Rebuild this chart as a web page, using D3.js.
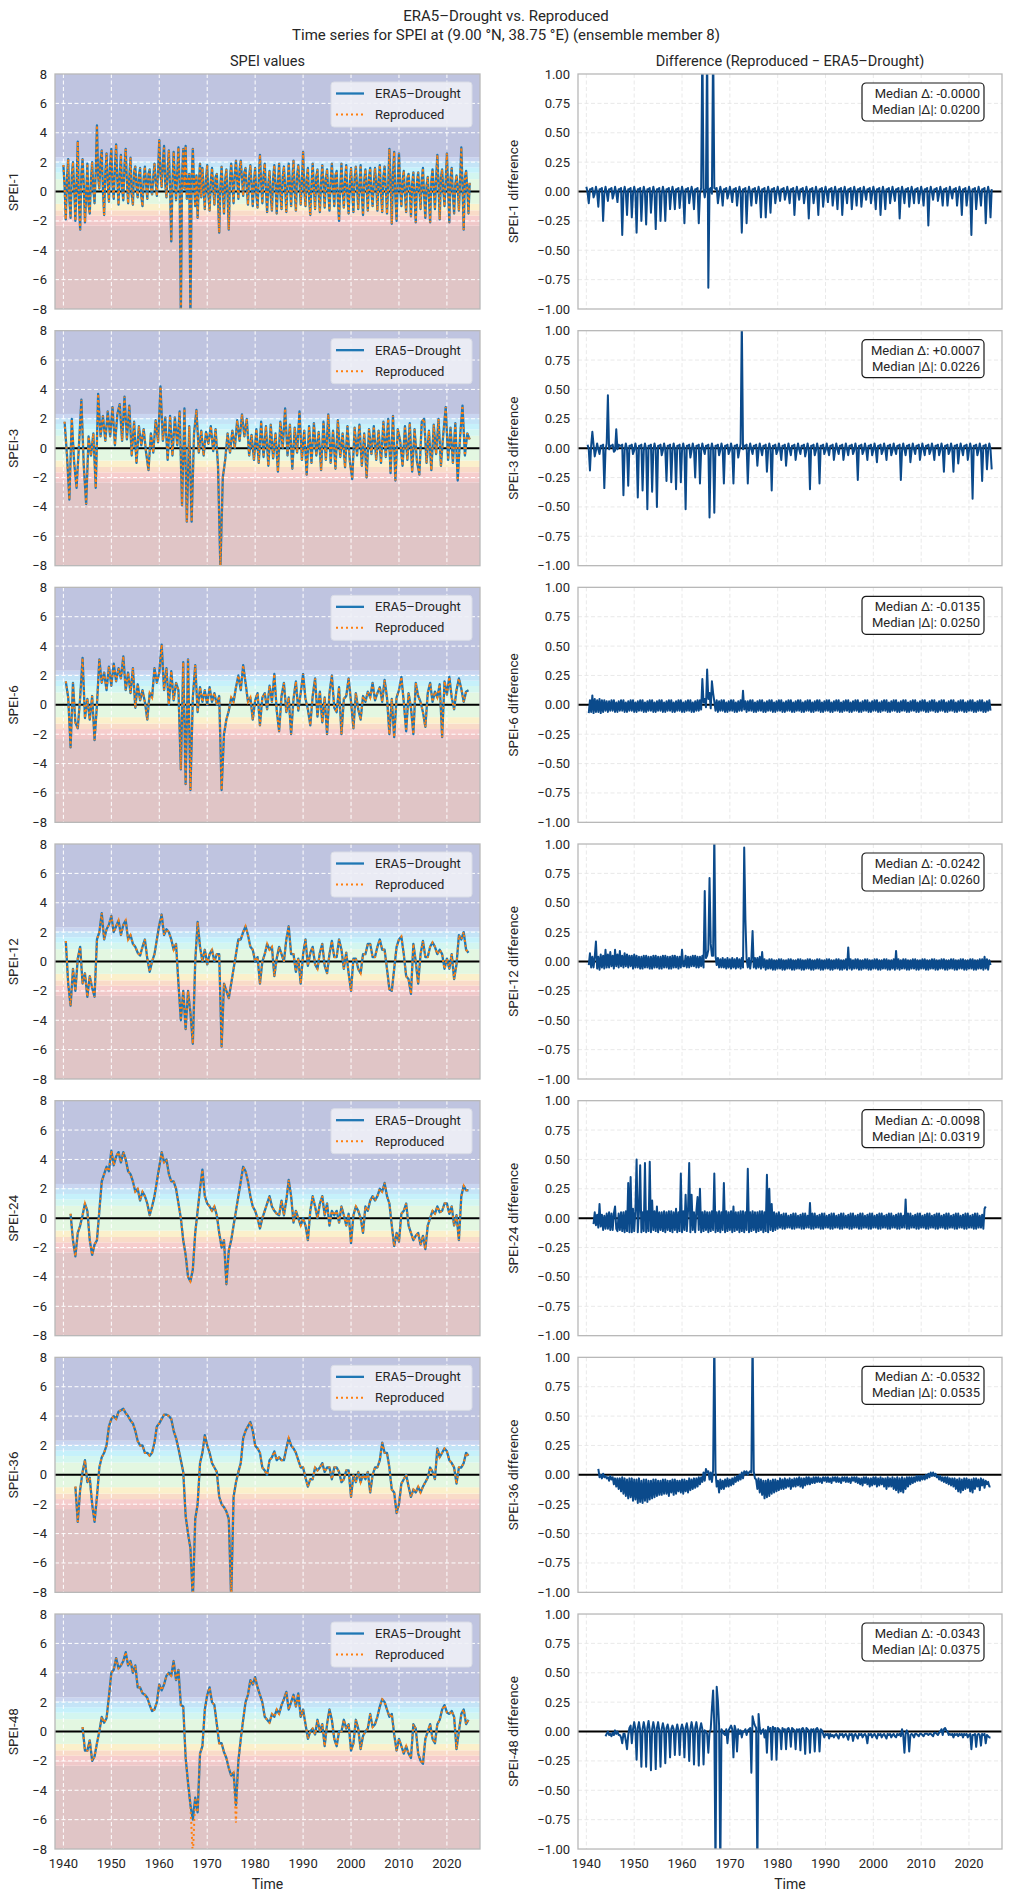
<!DOCTYPE html>
<html>
<head>
<meta charset="utf-8">
<script src="https://cdn.jsdelivr.net/npm/d3@7"></script>
<style>
  body { margin: 0; background: #fff; }
</style>
</head>
<body>
<div id="chart"></div>
<script>
// ---- data ----
const scaleNames = ['SPEI-1', 'SPEI-3', 'SPEI-6', 'SPEI-12', 'SPEI-24', 'SPEI-36', 'SPEI-48'];
const medianDelta = ['-0.0000', '+0.0007', '-0.0135', '-0.0242', '-0.0098', '-0.0532', '-0.0343'];
const medianAbs = ['0.0200', '0.0226', '0.0250', '0.0260', '0.0319', '0.0535', '0.0375'];
const yearTicks = [1940, 1950, 1960, 1970, 1980, 1990, 2000, 2010, 2020];
const speiTicks = [-8, -6, -4, -2, 0, 2, 4, 6, 8];
const diffTicks = [-1, -0.75, -0.5, -0.25, 0, 0.25, 0.5, 0.75, 1];
const bandEdges = [-8, -2.33, -2.05, -1.65, -1.28, -0.84, 0.84, 1.28, 1.65, 2.05, 2.33, 8];
const bandColors = ['#e0c5c6', '#f0c8c9', '#f6cdcd', '#f9dbc8', '#fbf0cb', '#e3f7e1',
                    '#d3f6f0', '#c6f1fb', '#c4e4f7', '#c9d5f0', '#bfc4e0'];
// first sample time and sample spacing (years) of each series
const speiStart = [1940.0, 1940.25, 1940.5, 1940.5, 1941.5, 1942.5, 1944.0];
const speiStep = [0.25, 0.5, 0.5, 0.5, 0.5, 0.5, 0.5];
const diffStart = [1940.0, 1940.25, 1940.5, 1940.5, 1941.5, 1942.5, 1944.0];
const diffStep = 0.25;

// SPEI-1, quarterly, one row of four per year 1940..2024
const spei1 = [
  1.8,0.4,-1.9,0.9, 2.2,-0.6,-1.8,1.1, 2.0,0.3,-2.0,0.6, 3.4,-0.8,-2.6,1.2, 2.2,0.5,-2.1,-0.3,
  1.9,-0.9,-1.5,0.8, 2.0,0.2,-0.8,1.4, 4.5,1.0,0.2,2.1, 2.8,0.1,-1.6,1.3, 2.6,0.6,-0.7,1.9,
  2.9,0.4,-0.5,1.6, 3.2,0.8,-0.9,1.2, 2.5,0.2,-0.6,1.8, 2.9,0.7,-0.8,1.0, 2.3,-0.2,-0.9,1.4,
  1.7,0.3,-0.4,1.1, 1.6,-0.3,-1.0,0.9, 1.7,0.5,-0.5,1.2, 1.5,0.2,-0.2,1.0, 1.9,0.6,-0.3,1.4,
  3.5,1.2,0.3,2.0, 3.1,0.5,-0.4,1.5, 2.8,0.3,-3.4,0.6, 2.7,0.9,-0.6,1.3, 3.0,0.4,-8.5,1.0,
  2.9,0.2,3.1,-0.5, 0.4,1.2,-8.5,0.8, 2.9,0.6,-1.0,1.1, -1.8,0.5,1.9,-0.4, 1.6,0.2,-1.2,0.9,
  1.8,-0.2,-1.3,0.7, 1.6,0.3,-0.9,1.0, 1.2,-0.5,-2.8,0.4, 1.7,0.1,-1.5,0.8, 1.5,-0.3,-2.6,0.9,
  1.9,0.6,-0.8,1.2, 2.1,0.8,-0.5,1.5, 2.1,0.9,-0.3,1.3, 1.6,0.2,-0.9,1.0, 1.8,0.4,-1.0,0.7,
  1.6,-0.2,-1.1,0.8, 2.5,0.6,-0.8,1.1, 1.9,0.1,-1.4,0.5, 1.4,-0.3,-1.3,0.9, 1.8,0.4,-1.5,0.6,
  1.9,-0.1,-1.2,1.0, 1.7,0.3,-1.4,0.4, 1.9,0.5,-1.0,0.8, 2.1,0.0,-1.3,1.1, 1.8,0.6,-0.9,0.7,
  2.7,0.2,-1.0,0.9, 1.6,-0.4,-1.6,0.5, 1.9,0.3,-1.2,1.0, 1.5,-0.2,-1.4,0.6, 1.8,0.5,-1.1,0.9,
  1.5,0.0,-1.3,0.7, 1.9,0.4,-1.0,1.1, 1.4,-0.5,-2.0,0.3, 1.9,0.2,-1.1,0.8, 1.8,-0.3,-1.5,0.6,
  1.6,0.1,-1.4,0.9, 1.7,0.4,-1.2,0.5, 1.8,-0.2,-1.6,0.7, 1.5,0.3,-1.3,1.0, 1.6,0.0,-1.0,0.6,
  1.6,0.5,-1.3,0.8, 1.8,-0.1,-1.4,1.0, 1.7,0.2,-1.5,0.4, 2.9,0.6,-2.2,1.2, 2.7,-0.4,-2.0,0.8,
  2.6,0.3,-1.0,0.7, 1.4,-0.2,-1.4,0.9, 1.2,0.1,-1.7,0.5, 1.3,-0.4,-2.1,0.6, 1.3,0.2,-1.2,0.8,
  1.6,-0.3,-1.8,0.4, 1.0,-0.5,-2.1,0.7, 1.5,0.3,-1.2,0.9, 2.5,0.4,-1.9,1.0, 1.5,0.1,-1.0,0.8,
  2.6,0.2,-2.1,0.9, 1.6,-0.2,-1.5,0.5, 1.1,0.3,-1.3,0.8, 3.0,0.4,-2.6,0.9, 1.4,0.2,-1.5,0.6
];
const spei3 = [
  1.8,-0.5, -3.5,2.0, -1.0,-2.7, 0.2,3.3, -1.2,-3.8, 0.8,-0.5, 1.0,-2.7, 3.7,0.8, 2.2,0.5, 2.5,0.8,
  2.8,0.2, 2.3,3.0, 0.5,3.5, 0.6,2.9, -0.5,1.8, -1.0,1.5, 0.2,1.3, -0.3,-1.5, 1.0,-0.3, 1.9,0.4,
  4.2,0.5, 2.1,-0.8, 2.2,-0.5, 2.1,0.2, 2.5,-3.9, 2.7,-5.0, 1.5,-5.0, 1.0,2.6, -0.3,1.2, -0.5,1.1,
  0.3,1.5, -0.2,1.3, -1.2,-8.2, -2.0,-0.8, 1.0,-0.3, 1.2,0.0, 1.9,0.5, 2.3,0.8, 2.0,-0.5, 0.9,-0.8,
  1.3,-1.0, 1.8,-0.6, 1.5,-1.2, 1.6,-0.7, 1.0,-1.6, 1.8,0.0, 2.7,-0.5, 1.6,-1.4, 1.4,-0.3, 2.5,-0.8,
  1.2,-1.8, 1.5,-1.0, 1.7,-0.5, 1.1,-1.5, 1.8,-0.8, 2.3,-1.0, 1.2,-1.4, 1.9,-0.6, 1.0,-1.3, 1.5,-0.9,
  -2.1,1.4, -0.5,1.6, -1.2,1.0, -2.0,1.3, -0.4,1.5, -0.8,1.2, -1.0,1.8, -0.6,2.0, -1.7,2.2, -2.2,1.3,
  0.5,-1.2, 1.5,-0.8, 1.7,-1.6, 1.3,-0.9, -1.8,1.8, 2.0,-1.0, 1.2,-1.5, 1.6,-0.4, 2.0,-1.2, 1.0,2.8,
  -0.8,1.4, -1.0,1.7, -2.2,0.8, 2.9,-0.5, 1.0,0.6
];
const spei6 = [
  1.6,
  0.5,-2.9, 1.5,-1.2, -1.6,0.5, 3.2,-0.9, 0.4,-1.0, 0.6,-2.4, 0.0,3.1, 1.5,2.2, 1.0,2.6,
  1.3,2.8, 1.6,2.5, 1.8,3.3, 1.0,2.2, 0.8,2.5, -0.2,1.4, 0.3,1.0, 0.2,-1.0, 0.8,0.5, 2.5,1.5,
  2.2,4.1, 1.0,2.5, 0.0,2.3, 0.3,1.5, 1.0,-4.4, 2.9,-5.4, 3.1,-5.8, 0.5,2.7, -0.5,1.2, 0.2,1.0,
  0.0,1.2, 0.2,0.8, 0.0,0.6, -5.8,-2.0, -1.0,-0.4, 0.5,0.2, 1.2,2.0, 1.0,2.7, 1.5,0.2, 0.5,-1.0,
  0.3,0.8, -1.4,0.5, 0.8,-0.3, 1.3,0.2, 2.1,-0.4, -1.8,0.6, 1.5,-0.5, 0.5,-2.0, 0.4,1.6, -0.4,0.8,
  2.1,0.4, -0.3,-1.4, 0.6,1.8, -0.8,0.9, -1.2,0.5, -2.0,0.8, 2.0,-0.2, -0.5,1.2, -2.0,0.4, 0.6,1.8,
  0.2,-1.6, 0.8,-0.3, -1.0,0.6, 0.2,0.9, 0.5,1.5, 0.3,0.8, 1.2,0.2, 1.7,0.5, -2.0,0.4, -2.2,0.5,
  1.0,1.9, 0.2,-1.8, 0.8,-0.2, -2.0,1.5, 0.6,0.2, -0.5,-1.5, 0.8,1.5, 0.2,0.9, 0.5,1.4, -2.2,1.6,
  0.7,1.9, 0.5,-0.3, 1.0,1.8, 1.1,0.2, 0.9,1.0
];
const spei12 = [
  1.4,
  -1.5,-3.0, -0.5,-2.0, 0.2,1.0, -1.5,-0.8, -2.4,-1.0, -1.8,-2.4, 1.5,2.0, 3.3,1.5, 2.2,2.5,
  3.1,2.0, 2.4,2.8, 1.8,2.5, 2.8,1.5, 1.8,1.2, 1.0,0.6, 0.4,1.0, 1.5,0.2, -0.7,0.0, 0.5,1.5,
  2.5,3.2, 1.8,2.2, 2.0,1.5, 0.8,1.2, -1.5,-4.0, -2.0,-4.6, -2.0,-3.5, -5.6,0.0, 2.7,1.0, 0.0,0.8,
  -0.2,0.5, 0.8,0.0, 0.5,0.5, -5.8,-1.5, -2.0,-2.5, -1.5,-0.5, 0.5,1.5, 1.5,2.0, 2.4,1.8, 1.0,0.8,
  0.0,0.3, -1.5,0.0, 0.5,1.2, 0.8,1.0, -1.0,0.2, 1.0,0.5, 0.0,1.5, 2.4,0.5, 0.5,-0.7, 0.2,-1.5,
  0.5,1.5, -0.3,0.6, 1.0,-0.2, -0.5,0.6, 1.2,-0.3, -0.8,0.5, 1.4,0.3, 0.3,1.5, 0.8,-0.5, 0.6,-0.8,
  -2.0,0.2, 0.2,-0.5, -0.8,0.5, 0.5,1.2, 1.2,0.3, 0.3,1.0, 1.5,0.8, 0.8,-0.5, -1.9,-2.0, -0.5,1.0,
  1.5,1.7, 0.5,-1.0, -1.2,-2.2, 1.2,0.0, -1.5,0.5, 1.4,0.3, 0.3,1.0, 1.3,1.0, 0.5,0.8, 0.5,-0.5,
  0.2,-0.5, 0.5,-1.2, -0.2,1.8, 1.5,2.0, 0.8,0.6
];
const spei24 = [
  0.3,
  -1.5,-2.6, -1.0,-0.5, 0.2,1.0, 0.5,-1.5, -2.5,-1.8, -1.5,0.5, 2.5,3.0, 3.5,3.2,
  4.6,3.6, 4.2,4.5, 3.8,4.5, 4.0,3.2, 3.0,2.5, 1.8,2.0, 1.2,1.8, 1.5,1.0, 0.2,0.8, 1.5,2.5,
  3.5,4.5, 3.8,4.0, 3.0,2.5, 2.5,2.0, 1.0,0.0, -1.5,-2.5, -4.0,-4.3, -3.5,-1.0, 0.5,2.0, 3.3,1.5,
  1.0,0.8, 0.5,0.8, 0.2,-1.0, -2.0,-1.5, -4.5,-2.2, -1.5,-0.5, 0.5,1.5, 2.5,3.5, 3.2,2.5, 1.5,0.8,
  0.5,0.0, -0.7,0.0, 0.5,1.0, 1.5,0.8, 0.5,0.3, 0.2,1.2, 0.2,1.2, 2.6,1.5, -0.3,0.5, 0.0,-0.5,
  0.0,-0.5, -1.5,0.5, 1.5,0.8, 0.0,1.0, 1.5,0.2, 1.0,-0.5, 0.5,0.2, 0.5,-0.3, 0.8,0.2, -0.5,0.3,
  -1.7,0.2, 0.8,0.5, 0.0,-1.0, 0.8,0.5, 1.2,1.5, 1.2,1.5, 2.0,1.8, 2.4,1.5, 1.0,-0.5, -1.9,-1.0,
  -1.6,0.3, 0.5,1.0, -0.5,-1.0, -1.5,-1.2, -1.0,-1.8, -1.2,-2.1, -0.5,0.0, 0.5,0.3, 0.8,0.4, 0.5,1.0,
  1.0,0.3, 0.8,-0.5, 0.2,-1.5, 1.5,2.2, 1.9,1.9
];
const spei36 = [
  -0.8,
  -3.2,-1.0, 0.2,1.0, -0.5,-0.2, -2.0,-3.2, -1.5,0.5, 1.2,1.5, 2.0,3.3,
  3.8,4.0, 3.8,4.3, 4.4,4.5, 4.2,4.0, 3.7,3.5, 3.0,2.3, 2.0,2.0, 1.5,1.5, 1.3,1.5, 2.2,3.3,
  3.5,3.8, 4.1,4.1, 4.0,3.8, 3.0,2.5, 1.8,1.0, 0.2,-2.8, -4.0,-5.0, -8.5,-3.0, -2.0,0.8, 1.5,2.7,
  2.0,1.5, 0.8,0.5, 0.2,-1.5, -2.0,-2.2, -2.5,-3.0, -8.5,-1.5, -0.5,0.2, 0.8,2.5, 3.0,3.3, 3.6,3.0,
  2.0,1.8, 1.5,0.5, 0.3,0.0, 1.0,1.2, 1.6,1.0, 1.2,1.0, 1.0,1.8, 2.5,2.0, 1.8,1.5, 1.0,0.5,
  0.5,-0.2, -0.8,-0.3, -0.3,0.5, 0.3,0.5, 0.8,0.2, 0.5,0.5, -0.3,0.5, 0.5,0.2, -0.5,-0.3, 0.3,0.3,
  -1.5,0.0, -0.5,0.2, -0.5,0.0, -0.3,0.2, -1.2,0.0, 0.5,0.5, 1.0,2.2, 1.5,1.5, 0.5,-1.0, -1.2,-2.6,
  -2.0,-0.6, -0.3,0.0, -0.8,-1.5, -1.0,-1.2, -0.8,-1.2, -0.8,-0.5, -0.2,0.5, 0.2,-0.3, 1.8,1.2, 1.5,1.8,
  1.6,1.0, 0.8,0.5, -0.6,0.5, 0.5,0.8, 1.5,1.3
];
const spei48 = [
  0.3,-1.3, -1.3,-0.6, -2.0,-1.7, -0.8,0.0, 1.0,0.6, 0.9,2.4,
  4.0,4.2, 5.0,4.3, 4.5,4.8, 5.4,4.5, 4.8,4.0, 4.5,3.0, 3.0,2.6, 2.5,2.3, 1.8,1.4, 1.5,2.0,
  3.2,2.8, 3.2,3.8, 4.0,3.8, 4.8,3.5, 4.2,1.8, 1.7,-1.8, -3.5,-5.0, -6.0,-4.5, -5.5,-1.5, -1.0,1.5,
  2.5,3.0, 2.0,1.8, 0.5,-0.8, -0.8,-1.4, -1.8,-2.5, -3.0,-2.8, -5.0,-2.0, -0.5,0.8, 2.0,2.5, 3.5,3.2,
  3.7,3.0, 2.5,2.0, 1.0,0.8, 0.6,1.2, 1.0,1.5, 1.2,1.8, 2.2,2.7, 1.5,2.0, 2.5,1.7, 2.6,1.0,
  1.5,0.5, -0.5,0.0, 0.2,-0.2, 0.8,0.0, 0.5,-1.0, 0.5,1.5, 0.8,-0.5, -1.0,0.0, 0.0,0.8, 0.2,0.5,
  -1.3,-0.8, 0.8,0.2, -1.2,-0.3, 0.0,0.2, 1.2,0.3, 0.5,1.0, 1.7,2.2, 2.0,1.5, 1.0,1.2, -0.2,-1.3,
  -0.5,-1.0, -1.5,-1.0, -1.5,-1.8, 0.5,0.2, -1.5,-2.0, -2.2,-0.5, 0.0,0.5, -0.5,-0.8, 0.5,0.8, 1.5,1.8,
  1.3,1.2, 1.4,1.0, -1.2,0.0, 1.2,1.5, 0.5,0.8
];
// where the reproduced line visibly departs from ERA5-Drought: [time, value]
const reproOverrides = [[], [], [], [], [], [], [[1967.0, -8.5], [1976.0, -6.2]]];

// differences, quarterly, one row of four per year
const diff1 = [
  .04,-.01,-.10,.02, .02,.03,-.05,-.02, .04,-.01,-.13,.02, .02,.03,-.25,-.02, .04,-.01,-.08,.02,
  .02,.03,-.06,-.02, .04,-.01,-.09,.02, .02,.03,-.37,-.02, .04,-.01,-.20,.02, .02,.03,-.22,-.02,
  .04,-.01,-.35,.02, .02,.03,-.25,-.02, .04,-.01,-.28,.02, .02,.03,-.18,-.02, .04,-.01,-.32,.02,
  .02,.03,-.25,-.02, .04,-.01,-.25,.02, .02,.03,-.15,-.02, .04,-.01,-.15,.02, .02,.03,-.14,-.02,
  .04,-.01,-.27,.02, .02,.03,-.10,-.02, .04,-.01,-.15,.02, .02,.03,-.27,-.02, .03,1.3,.02,-.05,
  .03,1.3,-.82,.02, .03,-.02,1.3,.03, .02,.03,-.10,-.02, .04,-.01,-.12,.02, .02,.03,-.06,-.02,
  .04,-.01,-.09,.02, .02,.03,-.12,-.02, .04,-.01,-.35,.02, .02,.03,-.27,-.02, .04,-.01,-.12,.02,
  .02,.03,-.10,-.02, .04,-.01,-.22,.02, .02,.03,-.22,-.02, .04,-.01,-.18,.02, .02,.03,-.10,-.02,
  .04,-.01,-.08,.02, .02,.03,-.07,-.02, .04,-.01,-.10,.02, .02,.03,-.20,-.02, .04,-.01,-.07,.02,
  .02,.03,-.10,-.02, .04,-.01,-.23,.02, .02,.03,-.10,-.02, .04,-.01,-.20,.02, .02,.03,-.13,-.02,
  .04,-.01,-.09,.02, .02,.03,-.12,-.02, .04,-.01,-.15,.02, .02,.03,-.20,-.02, .04,-.01,-.10,.02,
  .02,.03,-.15,-.02, .04,-.01,-.12,.02, .02,.03,-.13,-.02, .04,-.01,-.07,.02, .02,.03,-.10,-.02,
  .04,-.01,-.15,.02, .02,.03,-.20,-.02, .04,-.01,-.15,.02, .02,.03,-.10,-.02, .04,-.01,-.08,.02,
  .02,.03,-.23,-.02, .04,-.01,-.10,.02, .02,.03,-.13,-.02, .04,-.01,-.10,.02, .02,.03,-.10,-.02,
  .04,-.01,-.12,.02, .02,.03,-.29,-.02, .04,-.01,-.07,.02, .02,.03,-.08,-.02, .04,-.01,-.12,.02,
  .02,.03,-.12,-.02, .04,-.01,-.06,.02, .02,.03,-.12,-.02, .04,-.01,-.20,.02, .02,.03,-.12,-.02,
  .04,-.01,-.37,.02, .02,.03,-.15,-.02, .04,-.01,-.12,.02, .02,.03,-.27,-.02, .04,-.01,-.22,.02
];
const diff3 = [
  .03,-.01,-.19,.02, .14,.03,-.07,-.02, .04,-.01,-.05,.02, .02,.03,-.34,-.02, .04,.45,-.01,.02,
  .02,.03,-.03,-.02, .16,-.01,.03,.02, .02,.03,-.40,-.02, .04,-.01,-.32,.02, .02,.03,-.05,-.02,
  .04,-.01,-.42,.02, .02,.03,-.36,-.02, .04,-.01,-.52,.02, .02,.03,-.37,-.02, .04,-.01,-.50,.02,
  .02,.03,-.06,-.02, .04,-.01,-.28,.02, .02,.03,-.29,-.02, .04,-.01,-.35,.02, .02,.03,-.29,-.02,
  .04,-.01,-.52,.02, .02,.03,-.08,-.02, .04,-.01,-.25,.02, .02,.03,-.30,-.02, .04,-.01,-.05,.02,
  .02,.03,-.59,-.02, .04,-.01,-.55,.02, .02,.03,-.06,-.02, .04,-.01,-.30,.02, .02,.03,-.05,-.02,
  .04,-.01,-.30,.02, .02,.03,-.08,-.02, .04,1.1,-.01,.02, .02,.03,-.30,-.02, .04,-.01,-.05,.02,
  .02,.03,-.15,-.02, .04,-.01,-.06,.02, .02,.03,-.20,-.02, .04,-.01,-.36,.02, .02,.03,-.05,-.02,
  .04,-.01,-.10,.02, .02,.03,-.15,-.02, .04,-.01,-.06,.02, .02,.03,-.10,-.02, .04,-.01,-.05,.02,
  .02,.03,-.07,-.02, .04,-.01,-.35,.02, .02,.03,-.06,-.02, .04,-.01,-.30,.02, .02,.03,-.05,-.02,
  .04,-.01,-.06,.02, .02,.03,-.10,-.02, .04,-.01,-.05,.02, .02,.03,-.10,-.02, .04,-.01,-.06,.02,
  .02,.03,-.05,-.02, .04,-.01,-.27,.02, .02,.03,-.05,-.02, .04,-.01,-.10,.02, .02,.03,-.06,-.02,
  .04,-.01,-.12,.02, .02,.03,-.05,-.02, .04,-.01,-.10,.02, .02,.03,-.06,-.02, .04,-.01,-.05,.02,
  .02,.03,-.27,-.02, .04,-.01,-.06,.02, .02,.03,-.12,-.02, .04,-.01,-.05,.02, .02,.03,-.10,-.02,
  .04,-.01,-.06,.02, .02,.03,-.05,-.02, .04,-.01,-.10,.02, .02,.03,-.06,-.02, .04,-.01,-.20,.02,
  .02,.03,-.05,-.02, .04,-.01,-.20,.02, .02,.03,-.13,-.02, .04,-.01,-.06,.02, .02,.03,-.10,-.02,
  .04,-.01,-.43,.02, .02,.03,-.06,-.02, .04,-.01,-.28,.02, .02,.03,-.18,-.02, .04,-.01,-.18
];
const diff6 = [
  -.07,.04,-.06,.08, -.07,.05,-.06,.04, -.06,.05,-.07,.04, -.06,.04,-.05,.03, -.06,.03,-.05,.04,
  -.05,.04,-.06,.02, -.06,.03,-.05,.04, -.05,.04,-.06,.02, -.06,.03,-.05,.04, -.05,.04,-.06,.02,
  -.06,.03,-.05,.04, -.05,.04,-.06,.02, -.06,.03,-.05,.04, -.05,.04,-.06,.02, -.06,.03,-.05,.04,
  -.05,.04,-.06,.02, -.06,.03,-.05,.04, -.05,.04,-.06,.02, -.06,.03,-.05,.04, -.05,.04,-.06,.02,
  -.06,.03,-.05,.04, -.05,.04,-.06,.02, -.06,.03,-.05,.04, -.05,.04,-.04,.22, .02,.05,-.02,.30,
  .05,.10,-.03,.20, .10,.03,-.05,.04, -.06,.03,-.05,.04, -.05,.04,-.06,.02, -.06,.03,-.05,.04,
  -.05,.04,-.06,.02, -.06,.03,-.05,.04, -.05,.12,-.04,.03, -.06,.03,-.05,.04, -.05,.04,-.06,.02,
  -.06,.03,-.05,.04, -.05,.04,-.06,.02, -.06,.03,-.05,.04, -.05,.04,-.06,.02, -.06,.03,-.05,.04,
  -.05,.04,-.06,.02, -.06,.03,-.05,.04, -.05,.04,-.06,.02, -.06,.03,-.05,.04, -.05,.04,-.06,.02,
  -.06,.03,-.05,.04, -.05,.04,-.06,.02, -.06,.03,-.05,.04, -.05,.04,-.06,.02, -.06,.03,-.05,.04,
  -.05,.04,-.06,.02, -.06,.03,-.05,.04, -.05,.04,-.06,.02, -.06,.03,-.05,.04, -.05,.04,-.06,.02,
  -.06,.03,-.05,.04, -.05,.04,-.06,.02, -.06,.03,-.05,.04, -.05,.04,-.06,.02, -.06,.03,-.05,.04,
  -.05,.04,-.06,.02, -.06,.03,-.05,.04, -.05,.04,-.06,.02, -.06,.03,-.05,.04, -.05,.04,-.06,.02,
  -.06,.03,-.05,.04, -.05,.04,-.06,.02, -.06,.03,-.05,.04, -.05,.04,-.06,.02, -.06,.03,-.05,.04,
  -.05,.04,-.06,.02, -.06,.03,-.05,.04, -.05,.04,-.06,.02, -.06,.03,-.05,.04, -.05,.04,-.06,.02,
  -.06,.03,-.05,.04, -.05,.04,-.06,.02, -.06,.03,-.05,.04, -.05,.04,-.06,.02, -.06,.03,-.05,.04,
  -.05,.04,-.06,.02, -.06,.03,-.05,.04, -.05,.04,-.06,.02, -.06,.03,-.05,.04,
  -.05
];
const diff12 = [
  -.03,.07,-.05,.04, -.05,.04,.17,-.06, .04,-.07,.06,-.05, .05,-.06,.10,-.05, .06,-.05,.08,-.04,
  .05,-.06,.10,-.04, .06,-.05,.09,-.04, .05,-.05,.07,-.04, .06,-.05,.05,-.04, .05,-.06,.06,-.05,
  .05,-.05,.04,-.06, .04,-.06,.05,-.05, .05,-.05,.04,-.06, .04,-.06,.05,-.05, .05,-.05,.04,-.06,
  .04,-.06,.05,-.05, .05,-.05,.04,-.06, .04,-.06,.05,-.05, .05,-.05,.04,-.06, .04,-.05,.10,-.04,
  -.04,.05,-.05,.04, -.05,.04,-.04,.05, -.04,.05,-.05,.04, -.05,.04,-.04,.05, -.05,.60,.03,.05,
  .10,.71,.15,.05, .05,1.1,.05,-.03, .03,-.05,.02,-.05, .03,-.05,.02,-.06, .03,-.05,.02,-.06,
  .03,-.05,.02,-.06, .03,-.05,.02,-.06, .03,-.05,.97,.36, .02,-.05,.03,-.06, .02,.26,-.05,.03,
  -.06,.03,-.05,.04, -.06,.08,-.05,.02, -.07,.01,-.06,.02, -.06,.02,-.07,.01, -.07,.01,-.06,.02,
  -.06,.02,-.07,.01, -.07,.01,-.06,.02, -.06,.02,-.07,.01, -.07,.01,-.06,.02, -.06,.02,-.07,.01,
  -.07,.01,-.06,.02, -.06,.02,-.07,.01, -.07,.01,-.06,.02, -.06,.02,-.07,.01, -.07,.01,-.06,.02,
  -.06,.02,-.07,.01, -.07,.01,-.06,.02, -.06,.02,-.07,.01, -.07,.01,-.06,.02, -.07,.12,-.06,.02,
  -.07,.01,-.06,.02, -.06,.02,-.07,.01, -.07,.01,-.06,.02, -.06,.02,-.07,.01, -.07,.01,-.06,.02,
  -.06,.02,-.07,.01, -.07,.01,-.06,.02, -.06,.02,-.07,.01, -.07,.01,-.06,.02, -.07,.09,-.06,.02,
  -.07,.01,-.06,.02, -.06,.02,-.07,.01, -.07,.01,-.06,.02, -.06,.02,-.07,.01, -.07,.01,-.06,.02,
  -.06,.02,-.07,.01, -.07,.01,-.06,.02, -.06,.02,-.07,.01, -.07,.01,-.06,.02, -.06,.02,-.07,.01,
  -.07,.01,-.06,.02, -.06,.02,-.07,.01, -.07,.01,-.06,.02, -.06,.02,-.07,.01, -.07,.01,-.06,.02,
  -.06,.02,-.07,.01, -.07,.01,-.06,.02, -.06,.02,-.07,.04, -.06,.02,-.07,.01,
  -.03
];
const diff24 = [
  -.05,.05,-.06,.03, -.08,.12,-.07,.03, -.10,.02,-.09,.04, -.09,.05,-.10,.04, -.10,.04,.10,-.09,
  -.11,.04,-.10,.05, -.11,.05,-.12,.06, -.11,.30,-.12,.35, -.12,.08,-.11,.06, .50,-.12,.06,.45,
  -.12,.05,-.11,.47, -.12,.06,-.11,.48, -.12,.15,-.10,.06, -.11,.10,-.12,.05, -.10,.05,-.11,.06,
  -.12,.05,-.10,.06, -.11,.06,-.12,.05, -.10,.08,-.12,.05, -.11,.38,-.12,.06, -.10,.20,-.11,.06,
  .47,-.12,.20,-.10, .05,-.12,.06,.18, -.10,.25,-.12,.05, -.11,.06,-.10,.05, -.12,.05,-.11,.06,
  -.10,.38,-.12,.05, -.11,.06,-.12,.05, -.10,.30,-.12,.06, -.11,.05,-.10,.06, -.12,.10,-.11,.05,
  -.10,.05,-.12,.06, -.11,.06,-.12,.05, -.10,.42,-.12,.05, -.11,.06,-.10,.05, -.12,.05,-.11,.06,
  -.10,.06,-.12,.05, -.11,.37,-.12,.25, -.10,.12,-.11,.05, -.10,.04,-.09,.05, -.08,.03,-.09,.04,
  -.09,.04,-.08,.02, -.08,.03,-.09,.04, -.09,.04,-.08,.02, -.08,.03,-.09,.04, -.09,.04,-.08,.02,
  -.08,.13,-.09,.04, -.09,.04,-.08,.02, -.08,.03,-.09,.04, -.09,.04,-.08,.02, -.08,.03,-.09,.04,
  -.09,.04,-.08,.02, -.08,.03,-.09,.04, -.09,.04,-.08,.02, -.08,.03,-.09,.04, -.09,.04,-.08,.02,
  -.08,.03,-.09,.04, -.09,.04,-.08,.02, -.08,.03,-.09,.04, -.09,.04,-.08,.02, -.08,.03,-.09,.04,
  -.09,.04,-.08,.02, -.08,.03,-.09,.04, -.09,.04,-.08,.02, -.08,.03,-.09,.04, -.09,.04,-.08,.02,
  -.08,.16,-.09,.04, -.09,.04,-.08,.02, -.08,.03,-.09,.04, -.09,.04,-.08,.02, -.08,.03,-.09,.04,
  -.09,.04,-.08,.02, -.08,.03,-.09,.04, -.09,.04,-.08,.02, -.08,.03,-.09,.04, -.09,.04,-.08,.02,
  -.08,.03,-.09,.04, -.09,.04,-.08,.02, -.08,.03,-.09,.04, -.09,.04,-.08,.02, -.08,.03,-.09,.04,
  -.09,.04,-.08,.02, -.08,.03,-.09,.08,
  .10
];
const diff36 = [
  .05,-.02,.00,-.03, .01,-.02,-.01,-.03, -.02,-.05,-.01,-.04, -.02,-.08,-.03,-.10, -.03,-.12,-.03,-.14,
  -.02,-.16,-.03,-.18, -.04,-.20,-.03,-.19, -.03,-.22,-.04,-.21, -.04,-.24,-.03,-.23, -.05,-.24,-.04,-.22,
  -.04,-.23,-.05,-.21, -.05,-.20,-.04,-.19, -.04,-.18,-.05,-.17, -.05,-.17,-.04,-.16, -.04,-.16,-.05,-.18,
  -.05,-.15,-.04,-.17, -.04,-.16,-.05,-.14, -.05,-.15,-.04,-.16, -.04,-.14,-.05,-.15, -.03,-.13,-.04,-.12,
  -.03,-.11,-.03,-.10, -.02,-.08,-.02,-.06, .02,-.05,.05,.02, .03,-.04,.02,-.06, .04,1.2,.03,-.10,
  -.05,-.15,-.04,-.12, -.05,-.12,-.04,-.10, -.03,-.10,-.04,-.09, -.03,-.08,-.02,-.06, -.01,-.05,.00,-.04,
  .02,-.03,.03,.01, .03,.00,.02,.03, .02,1.2,.03,-.03, -.04,-.12,-.03,-.15, -.04,-.17,-.05,-.20,
  -.05,-.19,-.04,-.18, -.05,-.16,-.04,-.15, -.04,-.14,-.05,-.13, -.03,-.12,-.04,-.12, -.03,-.11,-.04,-.10,
  -.03,-.12,-.04,-.10, -.03,-.10,-.03,-.09, -.02,-.10,-.03,-.11, -.03,-.09,-.02,-.08, -.02,-.08,-.03,-.07,
  -.02,-.07,-.02,-.06, -.02,-.06,-.03,-.07, -.02,-.05,-.02,-.06, -.02,-.06,-.03,-.07, -.02,-.05,-.02,-.06,
  -.02,-.06,-.03,-.07, -.02,-.05,-.02,-.06, -.02,-.06,-.03,-.07, -.02,-.05,-.02,-.06, -.02,-.07,-.03,-.08,
  -.03,-.09,-.02,-.07, -.02,-.08,-.03,-.10, -.03,-.09,-.02,-.08, -.02,-.10,-.03,-.09, -.02,-.08,-.03,-.10,
  -.03,-.12,-.02,-.10, -.03,-.10,-.02,-.12, -.03,-.13,-.02,-.15, -.03,-.14,-.02,-.15, -.03,-.12,-.02,-.10,
  -.02,-.08,-.02,-.07, -.02,-.06,-.01,-.05, -.01,-.05,-.01,-.04, -.01,-.04,.00,-.03, .01,-.02,.02,-.01,
  .02,-.01,.01,-.02, -.01,-.04,-.01,-.05, -.02,-.06,-.02,-.07, -.02,-.08,-.03,-.09, -.03,-.10,-.03,-.12,
  -.04,-.14,-.03,-.15, -.04,-.13,-.03,-.12, -.03,-.11,-.04,-.14, -.04,-.15,-.03,-.12, -.03,-.10,-.04,-.13,
  -.03,-.09,-.04,-.11, -.05,-.08,-.06,-.10,
  -.10
];
const diff48 = [
  -.04,-.02,.00,-.03, -.02,-.04,-.01,-.03, .01,-.02,.00,-.03, -.03,-.05,-.10,-.02, -.02,-.08,-.15,-.03,
  .03,.05,-.10,.02, .08,.02,-.24,.03, .08,.01,-.30,.02, .08,.02,-.30,.03, .09,.01,-.33,.02,
  .08,.02,-.32,.03, .08,.01,-.30,.02, .07,.02,-.27,.03, .06,.01,-.22,.02, .05,.02,-.20,.01,
  .06,.01,-.20,.02, .06,.02,-.22,.03, .07,.01,-.25,.02, .08,.02,-.28,.03, .08,.01,-.29,.02,
  .07,.02,-.28,.01, .00,-.02,-.18,-.01, .02,.20,.35,.05, -1.2,.38,.26,.05, -1.2,.02,.00,-.02,
  -.03,.02,-.10,.01, .03,.05,.02,-.22, .05,.01,-.17,.02, -.02,.01,-.05,.00, .00,.02,-.03,.01,
  .02,.03,-.35,.13, .08,.05,.03,-1.2, .15,.03,-.02,.01, .02,-.05,.01,-.18, .04,.01,.03,-.24,
  .04,.02,.03,-.24, .03,.02,.01,-.15, .03,.01,.02,-.15, .02,.03,.01,-.13, .03,.02,.01,-.15,
  .02,.01,.02,-.16, .02,.03,.01,-.19, .03,.02,.01,-.18, .02,.01,.02,-.17, .02,.03,.01,-.17,
  .02,.01,-.02,-.05, -.02,-.03,-.02,-.06, -.02,-.04,-.03,-.05, -.03,-.02,-.04,-.06, -.02,-.03,-.02,-.05,
  -.03,-.02,-.04,-.07, -.02,-.03,-.02,-.08, -.03,-.02,-.04,-.06, -.02,-.03,-.02,-.05, -.03,-.02,-.04,-.10,
  -.02,-.03,-.02,-.05, -.03,-.02,-.04,-.06, -.02,-.03,-.02,-.05, -.03,-.02,-.04,-.06, -.02,-.03,-.02,-.05,
  -.03,-.02,-.04,-.05, -.02,-.03,-.02,-.04, .02,-.03,-.18,-.02, .01,-.02,-.17,-.03, -.02,-.03,-.05,-.02,
  -.02,-.03,-.04,-.02, -.02,-.03,-.04,-.02, -.02,-.02,-.03,-.02, -.02,-.03,-.04,-.01, -.01,-.02,-.03,-.01,
  .00,.02,-.03,.02, .03,.01,.00,-.03, -.02,-.03,-.02,-.05, -.02,-.03,-.02,-.04, -.02,-.03,-.02,-.05,
  -.02,-.03,-.02,-.05, -.03,-.02,-.15,-.03, -.03,-.02,-.13,-.03, -.02,-.03,-.12,-.02, -.03,-.02,-.10,-.03,
  -.04,-.05,-.05
];
const speiSeries = [spei1, spei3, spei6, spei12, spei24, spei36, spei48];
const diffSeries = [diff1, diff3, diff6, diff12, diff24, diff36, diff48];

// ---- layout ----
const W = 1011, H = 1901;
const LEFT = {x0: 55, x1: 480};
const RIGHT = {x0: 578, x1: 1002};
const ROW0 = 74, ROW_STEP = 256.67, PH = 235;
const X_DOMAIN = [1938.25, 2026.9];
const FONT = 'Roboto, "DejaVu Sans", sans-serif';
const TEXT = '#262626';
const minus = (s) => String(s).replace('-', '\u2212');

const svg = d3.select('#chart')
  .append('svg')
  .attr('width', W)
  .attr('height', H)
  .style('font-family', FONT);

svg.append('rect').attr('width', W).attr('height', H).attr('fill', '#fff');

// figure titles
svg.append('text').attr('x', 506).attr('y', 21).attr('text-anchor', 'middle')
  .attr('font-size', 15).attr('fill', TEXT).text('ERA5\u2013Drought vs. Reproduced');
svg.append('text').attr('x', 506).attr('y', 40).attr('text-anchor', 'middle')
  .attr('font-size', 15).attr('fill', TEXT)
  .text('Time series for SPEI at (9.00 \u00b0N, 38.75 \u00b0E) (ensemble member 8)');
svg.append('text').attr('x', (LEFT.x0 + LEFT.x1) / 2).attr('y', 66).attr('text-anchor', 'middle')
  .attr('font-size', 14.5).attr('fill', TEXT).text('SPEI values');
svg.append('text').attr('x', (RIGHT.x0 + RIGHT.x1) / 2).attr('y', 66).attr('text-anchor', 'middle')
  .attr('font-size', 14.5).attr('fill', TEXT).text('Difference (Reproduced \u2212 ERA5\u2013Drought)');

const toPoints = (start, step, vals) => vals.map((v, k) => ({t: start + k * step, v}));

const defs = svg.append('defs');

scaleNames.forEach((name, i) => {
  const top = ROW0 + i * ROW_STEP;
  const isLast = i === scaleNames.length - 1;

  // ---------- left panel: SPEI values ----------
  const xL = d3.scaleLinear().domain(X_DOMAIN).range([LEFT.x0, LEFT.x1]);
  const yL = d3.scaleLinear().domain([-8, 8]).range([top + PH, top]);
  const gL = svg.append('g');

  defs.append('clipPath').attr('id', `clipL${i}`)
    .append('rect').attr('x', LEFT.x0).attr('y', top)
    .attr('width', LEFT.x1 - LEFT.x0).attr('height', PH);

  // drought / wetness category bands
  gL.selectAll('rect.band')
    .data(bandColors)
    .join('rect')
    .attr('class', 'band')
    .attr('x', LEFT.x0)
    .attr('width', LEFT.x1 - LEFT.x0)
    .attr('y', (c, k) => yL(bandEdges[k + 1]))
    .attr('height', (c, k) => yL(bandEdges[k]) - yL(bandEdges[k + 1]))
    .attr('fill', (c) => c);

  // white dashed grid
  gL.selectAll('line.gx').data(yearTicks).join('line')
    .attr('x1', (d) => xL(d)).attr('x2', (d) => xL(d))
    .attr('y1', top).attr('y2', top + PH)
    .attr('stroke', '#fff').attr('stroke-width', 1).attr('stroke-dasharray', '4,2.5');
  gL.selectAll('line.gy').data(speiTicks.slice(1, -1)).join('line')
    .attr('x1', LEFT.x0).attr('x2', LEFT.x1)
    .attr('y1', (d) => yL(d)).attr('y2', (d) => yL(d))
    .attr('stroke', '#fff').attr('stroke-width', 1).attr('stroke-dasharray', '4,2.5');

  const lineL = d3.line().x((d) => xL(d.t)).y((d) => yL(d.v));
  const era5 = toPoints(speiStart[i], speiStep[i], speiSeries[i]);
  const overrides = new Map(reproOverrides[i]);
  const repro = era5.map((d) => ({t: d.t, v: overrides.has(d.t) ? overrides.get(d.t) : d.v}));

  const plotL = gL.append('g').attr('clip-path', `url(#clipL${i})`);
  plotL.append('line')
    .attr('x1', LEFT.x0).attr('x2', LEFT.x1).attr('y1', yL(0)).attr('y2', yL(0))
    .attr('stroke', '#000').attr('stroke-width', 2);
  plotL.append('path').datum(era5).attr('d', lineL)
    .attr('fill', 'none').attr('stroke', '#1f77b4').attr('stroke-width', 2.3)
    .attr('stroke-linejoin', 'round');
  plotL.append('path').datum(repro).attr('d', lineL)
    .attr('fill', 'none').attr('stroke', '#ff7f0e').attr('stroke-width', 2)
    .attr('stroke-dasharray', '2,3');

  gL.append('rect').attr('x', LEFT.x0).attr('y', top)
    .attr('width', LEFT.x1 - LEFT.x0).attr('height', PH)
    .attr('fill', 'none').attr('stroke', '#b8b8b8').attr('stroke-width', 1.3);

  // y ticks
  gL.selectAll('text.yt').data(speiTicks).join('text')
    .attr('x', LEFT.x0 - 8).attr('y', (d) => yL(d) + 4.5)
    .attr('text-anchor', 'end').attr('font-size', 13).attr('fill', TEXT)
    .text((d) => minus(d));
  gL.append('text')
    .attr('transform', `translate(18,${top + PH / 2}) rotate(-90)`)
    .attr('text-anchor', 'middle').attr('font-size', 13.5).attr('fill', TEXT)
    .text(name);

  // legend
  const lg = gL.append('g').attr('transform', `translate(${LEFT.x1 - 149},${top + 8})`);
  lg.append('rect').attr('width', 141).attr('height', 45).attr('rx', 3)
    .attr('fill', '#eef0f6').attr('fill-opacity', 0.9)
    .attr('stroke', '#d9dce6').attr('stroke-width', 1);
  lg.append('line').attr('x1', 5).attr('x2', 33).attr('y1', 11.5).attr('y2', 11.5)
    .attr('stroke', '#1f77b4').attr('stroke-width', 2.3);
  lg.append('line').attr('x1', 5).attr('x2', 33).attr('y1', 32.5).attr('y2', 32.5)
    .attr('stroke', '#ff7f0e').attr('stroke-width', 2).attr('stroke-dasharray', '2,3');
  lg.append('text').attr('x', 44).attr('y', 16).attr('font-size', 13).attr('fill', TEXT)
    .text('ERA5\u2013Drought');
  lg.append('text').attr('x', 44).attr('y', 37).attr('font-size', 13).attr('fill', TEXT)
    .text('Reproduced');

  // ---------- right panel: differences ----------
  const xR = d3.scaleLinear().domain(X_DOMAIN).range([RIGHT.x0, RIGHT.x1]);
  const yR = d3.scaleLinear().domain([-1, 1]).range([top + PH, top]);
  const gR = svg.append('g');

  defs.append('clipPath').attr('id', `clipR${i}`)
    .append('rect').attr('x', RIGHT.x0).attr('y', top)
    .attr('width', RIGHT.x1 - RIGHT.x0).attr('height', PH);

  gR.selectAll('line.gx').data(yearTicks).join('line')
    .attr('x1', (d) => xR(d)).attr('x2', (d) => xR(d))
    .attr('y1', top).attr('y2', top + PH)
    .attr('stroke', '#e6e6e6').attr('stroke-width', 0.9).attr('stroke-dasharray', '4,2.5');
  gR.selectAll('line.gy').data(diffTicks.slice(1, -1)).join('line')
    .attr('x1', RIGHT.x0).attr('x2', RIGHT.x1)
    .attr('y1', (d) => yR(d)).attr('y2', (d) => yR(d))
    .attr('stroke', '#e6e6e6').attr('stroke-width', 0.9).attr('stroke-dasharray', '4,2.5');

  const lineR = d3.line().x((d) => xR(d.t)).y((d) => yR(d.v));
  const plotR = gR.append('g').attr('clip-path', `url(#clipR${i})`);
  plotR.append('line')
    .attr('x1', RIGHT.x0).attr('x2', RIGHT.x1).attr('y1', yR(0)).attr('y2', yR(0))
    .attr('stroke', '#000').attr('stroke-width', 2);
  plotR.append('path').datum(toPoints(diffStart[i], diffStep, diffSeries[i])).attr('d', lineR)
    .attr('fill', 'none').attr('stroke', '#0b4a8b').attr('stroke-width', 2)
    .attr('stroke-linejoin', 'round');

  gR.append('rect').attr('x', RIGHT.x0).attr('y', top)
    .attr('width', RIGHT.x1 - RIGHT.x0).attr('height', PH)
    .attr('fill', 'none').attr('stroke', '#b8b8b8').attr('stroke-width', 1.3);

  gR.selectAll('text.yt').data(diffTicks).join('text')
    .attr('x', RIGHT.x0 - 8).attr('y', (d) => yR(d) + 4.5)
    .attr('text-anchor', 'end').attr('font-size', 13).attr('fill', TEXT)
    .text((d) => minus(d3.format('.2f')(d)));
  gR.append('text')
    .attr('transform', `translate(518,${top + PH / 2}) rotate(-90)`)
    .attr('text-anchor', 'middle').attr('font-size', 13.5).attr('fill', TEXT)
    .text(`${name} difference`);

  // median annotation box
  const mb = gR.append('g').attr('transform', `translate(${RIGHT.x1 - 140},${top + 9})`);
  mb.append('rect').attr('width', 122).attr('height', 38).attr('rx', 4)
    .attr('fill', '#fff').attr('stroke', '#1a1a1a').attr('stroke-width', 1.2);
  mb.append('text').attr('x', 118).attr('y', 15).attr('text-anchor', 'end')
    .attr('font-size', 13).attr('fill', TEXT).text(`Median \u0394: ${medianDelta[i]}`);
  mb.append('text').attr('x', 118).attr('y', 31).attr('text-anchor', 'end')
    .attr('font-size', 13).attr('fill', TEXT).text(`Median |\u0394|: ${medianAbs[i]}`);

  // x tick labels on the bottom row only
  if (isLast) {
    [[gL, xL], [gR, xR]].forEach(([g, x]) => {
      g.selectAll('text.xt').data(yearTicks).join('text')
        .attr('x', (d) => x(d)).attr('y', top + PH + 19)
        .attr('text-anchor', 'middle').attr('font-size', 13).attr('fill', TEXT)
        .text((d) => d);
      g.append('text').attr('x', (x.range()[0] + x.range()[1]) / 2).attr('y', top + PH + 40)
        .attr('text-anchor', 'middle').attr('font-size', 14).attr('fill', TEXT).text('Time');
    });
  }
});
</script>
</body>
</html>
